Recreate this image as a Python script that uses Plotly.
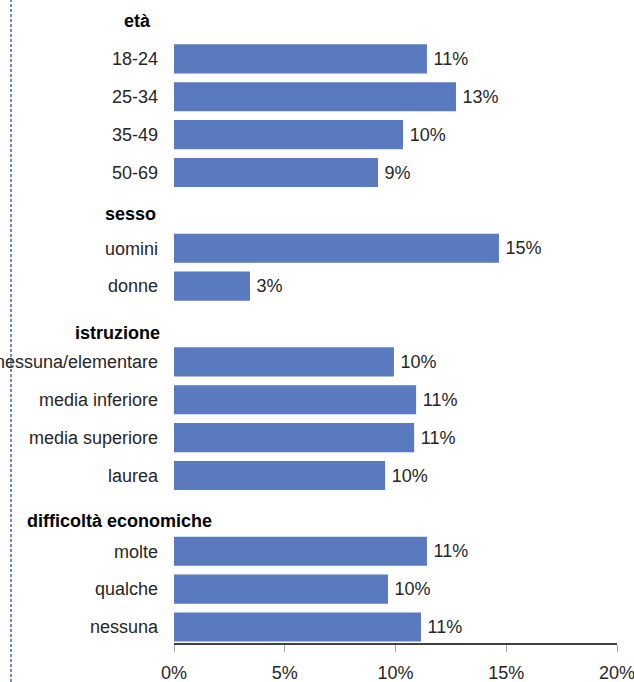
import plotly.graph_objects as go

# ---- data ----
headers = ["età", "sesso", "istruzione", "difficoltà economiche"]
labels = ["18-24", "25-34", "35-49", "50-69",
          "uomini", "donne",
          "nessuna/elementare", "media inferiore", "media superiore", "laurea",
          "molte", "qualche", "nessuna"]
values = [0.1142, 0.1273, 0.1034, 0.0921,
          0.1467, 0.0343,
          0.0993, 0.1093, 0.1084, 0.0953,
          0.1142, 0.0966, 0.1115]
group_of = [0, 0, 0, 0, 1, 1, 2, 2, 2, 2, 3, 3, 3]
x_ticks = [0, 0.05, 0.10, 0.15, 0.20]
x_tick_labels = ["0%", "5%", "10%", "15%", "20%"]

# ---- layout helpers ----
FONT = "Liberation Sans, Arial, sans-serif"
FS = 18
TXT = "#262626"
BAR = "#5A7ABF"
W, H = 634, 682
ML, MR, MT, MB = 174, 17, 0, 39
pw = W - ML - MR
ph = H - MT - MB

# slot positions: each group gets a header slot followed by its bars
bar_slots = []
header_slots = []
slot = 0
prev = None
for g in group_of:
    if g != prev:
        header_slots.append(slot)
        slot += 1
        prev = g
    bar_slots.append(slot)
    slot += 1

header_offset = [0.0, 0.1, 0.24, 0.2]
header_center_px = [137, 130, 117, 119]

slot_px = 37.875
top_px = 21
y_top = -top_px / slot_px
y_bot = (ph - top_px) / slot_px

fig = go.Figure()
fig.add_trace(go.Bar(
    x=values, y=bar_slots, orientation="h",
    marker=dict(color=BAR, line=dict(width=0)),
    width=0.77,
    texttemplate="\u2009%{x:.0%}", textposition="outside",
    textfont=dict(family=FONT, size=FS, color=TXT),
    cliponaxis=False, hoverinfo="skip",
))

annotations = []
for h, s, off, cx in zip(headers, header_slots, header_offset, header_center_px):
    annotations.append(dict(
        text="<b>" + h + "</b>", xref="paper", yref="y",
        x=(cx - ML) / pw, y=s + off, xanchor="center", yanchor="middle",
        showarrow=False, font=dict(family=FONT, size=FS, color="#000000"),
    ))

fig.update_layout(
    width=W, height=H,
    margin=dict(l=ML, r=MR, t=MT, b=MB, pad=0, autoexpand=False),
    paper_bgcolor="white", plot_bgcolor="white",
    showlegend=False,
    annotations=annotations,
    shapes=[dict(type="line", xref="paper", yref="paper",
                 x0=(11 - ML) / pw, x1=(11 - ML) / pw,
                 y0=-MB / ph, y1=1,
                 line=dict(color="#2A4EA6", width=1.3, dash="3px,2px"))],
    xaxis=dict(range=[0, 0.2], tickmode="array", tickvals=x_ticks,
               ticktext=x_tick_labels, ticklabeloverflow="allow",
               showgrid=False, zeroline=False, automargin=False,
               showline=True, linecolor="#404040", linewidth=2,
               ticks="outside", ticklen=7, tickwidth=1, tickcolor="#A6A6A6",
               ticklabelstandoff=5,
               tickfont=dict(family=FONT, size=FS, color=TXT)),
    yaxis=dict(range=[y_bot, y_top], tickvals=bar_slots, ticktext=labels,
               showgrid=False, zeroline=False, showline=False, ticks="",
               automargin=False, ticklabelstandoff=15,
               ticklabeloverflow="allow",
               tickfont=dict(family=FONT, size=FS, color=TXT)),
)

fig.write_html(
    "out.html",
    config={"displayModeBar": False},
    post_script="document.body.style.margin='0';document.body.style.overflow='hidden';",
)
